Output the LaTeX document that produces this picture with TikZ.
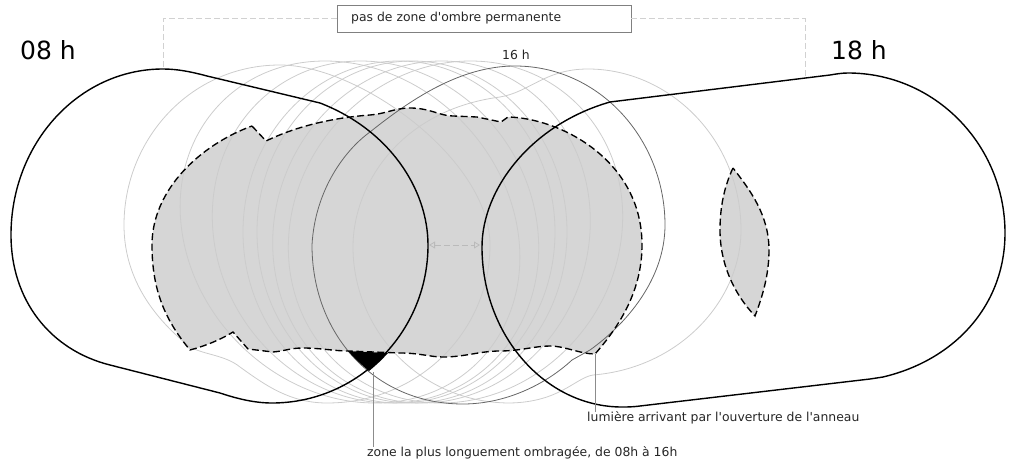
\documentclass[tikz,border=0pt]{standalone}
\usepackage{fontspec}
\setmainfont{DejaVu Sans}
\usetikzlibrary{arrows.meta}
\tikzset{
  ombre/.style={line width=1.35pt, dash pattern=on 7pt off 3.5pt},
  heure/.style={line width=1.4pt, black},
  fine/.style={line width=0.8pt, black!20},
  fine16/.style={line width=0.8pt, black!60},
  renvoi/.style={line width=0.8pt, black!18, dash pattern=on 6pt off 3pt},
  ecart/.style={line width=0.8pt, black!27, dash pattern=on 6pt off 3pt},
  fil/.style={line width=0.8pt, black!45},
  texte/.style={font=\fontsize{12.4}{14}\selectfont, anchor=west, inner sep=0pt, text=black!85},
  grand/.style={font=\fontsize{25}{30}\selectfont, anchor=west, inner sep=0pt}
}
\newcommand{\zonegrande}{
  (252,126) -- (266,141) .. controls (295,127) and (330,118) .. (370,115)
  .. controls (385,114) and (395,108) .. (410,108)
  .. controls (430,108) and (440,116) .. (453,116) -- (477,117) -- (501,122) -- (508,117)
  .. controls (560,118) and (642,160) .. (642,245)
  .. controls (642,285) and (625,320) .. (595,354)
  .. controls (580,354) and (565,346) .. (550,346)
  .. controls (535,346) and (520,351) .. (500,351)
  .. controls (480,351) and (465,357) .. (443,357)
  .. controls (430,357) and (420,353) .. (400,353) -- (348,351)
  .. controls (335,351) and (320,348) .. (303,348)
  .. controls (290,348) and (285,351) .. (273,352) -- (248,349) -- (233,332)
  .. controls (220,340) and (205,346) .. (190,350)
  .. controls (165,320) and (152,290) .. (152,245)
  .. controls (152,190) and (200,145) .. (252,126) -- cycle
}
\newcommand{\zonepetite}{
  (733,168) .. controls (725,185) and (720,205) .. (720,230)
  .. controls (720,265) and (735,295) .. (755,316)
  .. controls (765,290) and (769,270) .. (769,250)
  .. controls (769,215) and (750,190) .. (733,168) -- cycle
}
\begin{document}
\begin{tikzpicture}[x=1pt, y=-1pt]
  \useasboundingbox (0,0) rectangle (1013,463);
  \fill[black!16] \zonegrande;
  \fill[black!16] \zonepetite;

  \foreach \xa/\xb/\pente in {182/518/-25, 213/538/-15, 243/555/0, 257/567/0, 273/590/10, 289/622/15}
    \draw[fine, shift={({(\xa+\xb)/2},232)}, xslant={\pente/171}] (0,0) ellipse ({(\xb-\xa)/2} and 171);

  \draw[fine] (124,225) .. controls (124,140) and (190,65) .. (280,65)
    .. controls (360,65) and (490,160) .. (490,245)
    .. controls (490,330) and (420,403) .. (327,403)
    .. controls (290,403) and (265,385) .. (240,367)
    .. controls (225,355) and (205,355) .. (190,347)
    .. controls (150,315) and (124,275) .. (124,225) -- cycle;
  \draw[fine] (588,69) .. controls (670,69) and (741,140) .. (741,230)
    .. controls (741,300) and (680,368) .. (593,375)
    .. controls (575,378) and (560,402) .. (510,403)
    .. controls (420,403) and (353,330) .. (353,247)
    .. controls (353,185) and (400,110) .. (500,97)
    .. controls (530,92) and (545,69) .. (588,69) -- cycle;
  \draw[fine16] (515,66) .. controls (600,66) and (665,140) .. (665,225)
    .. controls (665,280) and (625,325) .. (590,350) -- (572,360)
    .. controls (545,385) and (505,404) .. (463,404)
    .. controls (375,404) and (312,335) .. (312,245)
    .. controls (315,190) and (345,150) .. (370,132)
    .. controls (410,100) and (460,66) .. (515,66) -- cycle;

  \fill[black] (348,351) to[bend right=4] (369,371) to[bend right=4] (388,353) -- cycle;
  \draw[ombre] \zonegrande;
  \draw[ombre] \zonepetite;

  \draw[heure] (163,69) .. controls (79,69) and (11,143) .. (11,235)
    .. controls (11,300) and (50,350) .. (110,365) -- (220,393)
    .. controls (238,399) and (255,403) .. (272,403)
    .. controls (358,403) and (428,332) .. (428,245)
    .. controls (428,190) and (390,130) .. (320,103) -- (207,76)
    .. controls (192,72) and (178,69) .. (163,69) -- cycle;
  \draw[heure] (848,73) .. controls (935,73) and (1005,145) .. (1005,233)
    .. controls (1005,305) and (955,360) .. (883,377) -- (870,379) -- (640,406)
    .. controls (632,407) and (628,407) .. (622,407)
    .. controls (545,407) and (482,335) .. (482,247)
    .. controls (482,190) and (530,125) .. (610,102) -- (830,75)
    .. controls (836,74) and (842,73) .. (848,73) -- cycle;

  \node[draw=black!50, line width=0.8pt, minimum width=294pt, minimum height=27pt, inner sep=0pt] (boite) at (484,18.5) {};
  \node[texte] (pasdezone) at (351,18) {pas de zone d\textquotesingle ombre permanente};
  \node[grand] (h08) at (20,50) {08 h};
  \node[grand] (h18) at (831,50) {18 h};
  \node[texte] (h16) at (502,55) {16 h};
  \node[texte] (lumiere) at (587,418) {lumière arrivant par l\textquotesingle ouverture de l\textquotesingle anneau};
  \node[texte] (longue) at (367,453) {zone la plus longuement ombragée, de 08h à 16h};

  \coordinate (hautgauche) at (163,69);
  \coordinate (hautdroite) at (805,77);
  \coordinate (ecartg) at (429,245);
  \coordinate (ecartd) at (480,245);
  \coordinate (noire) at (373,372);
  \coordinate (ouverture) at (595,354);

  \draw[renvoi] (boite.west) -| (hautgauche);
  \draw[renvoi] (boite.east) -| (hautdroite);
  \draw[ecart, {Triangle[open, length=6pt, width=7pt]}-{Triangle[open, length=6pt, width=7pt]}] (ecartg) -- (ecartd);
  \draw[fil] (noire) -- (noire |- longue.north);
  \draw[fil] (ouverture) -- (ouverture |- lumiere.north);
\end{tikzpicture}
\end{document}
